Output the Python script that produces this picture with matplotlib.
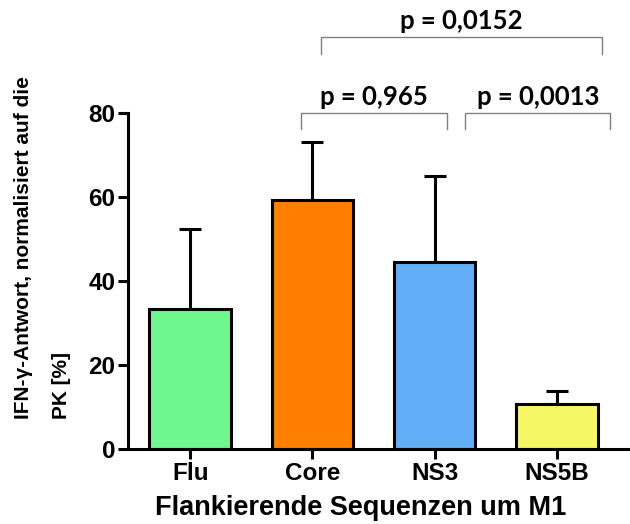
import matplotlib.pyplot as plt
import numpy as np

# Daten
categories = ['Flu', 'Core', 'NS3', 'NS5B']
means = [33.4, 59.3, 44.6, 10.6]
sd_upper = [19.0, 13.7, 20.4, 3.2]
colors = ['#6ef78c', '#ff8000', '#62aff7', '#f7f765']

# p-Werte: (von, bis, Text)
comparisons = [(1, 2, 'p = 0,965'), (2, 3, 'p = 0,0013'), (1, 3, 'p = 0,0152')]

plt.rcParams['font.family'] = ['Liberation Sans', 'DejaVu Sans']
plt.rcParams['font.weight'] = 'bold'

fig = plt.figure(figsize=(6.3, 5.24), dpi=100)
ax = fig.add_axes([128 / 630, 75 / 524, 1 - 128 / 630, 336 / 524])

x = np.arange(len(categories))
ax.bar(x, means, width=0.67, color=colors, edgecolor='black', linewidth=2.2, zorder=2)
ax.errorbar(x, means, yerr=[np.zeros(len(means)), sd_upper], fmt='none',
            ecolor='black', elinewidth=2.2, capsize=8, capthick=2.2, zorder=1)

ax.set_xlim(-0.51, 3.6)
ax.set_ylim(0, 80)
ax.set_yticks([0, 20, 40, 60, 80])
ax.set_xticks(x)
ax.set_xticklabels(categories)
ax.spines['top'].set_visible(False)
ax.spines['right'].set_visible(False)
ax.spines['left'].set_linewidth(2.2)
ax.spines['bottom'].set_linewidth(2.2)
ax.tick_params(width=2.2, length=7, labelsize=17.5, pad=2)
for lab in ax.get_xticklabels() + ax.get_yticklabels():
    lab.set_fontweight('bold')

ax.set_xlabel('Flankierende Sequenzen um M1', fontsize=19.5, fontweight='bold')
ax.xaxis.set_label_coords(0.464, -0.138)
fig.text(0.022, 0.855, 'IFN-γ-Antwort, normalisiert auf die\nPK [%]', rotation=90,
         ha='left', va='top', multialignment='left', fontsize=15,
         fontweight='bold', linespacing=2.3)

# Klammern mit p-Werten
brackets = {
    'p = 0,965': (0.91, 2.1, 80, 76.3),
    'p = 0,0013': (2.25, 3.44, 80, 76.3),
    'p = 0,0152': (1.07, 3.37, 98, 94),
}
for a, b, txt in comparisons:
    x0, x1, top, bot = brackets[txt]
    ax.plot([x0, x0, x1, x1], [bot, top, top, bot], color='#808080', lw=1.0,
            clip_on=False, zorder=3)
    ax.text((x0 + x1) / 2, top + 1.0, txt, ha='center', va='bottom',
            fontsize=18.5, fontweight='bold', family=['Lato', 'DejaVu Sans'])

fig.savefig('out.png', dpi=100)
